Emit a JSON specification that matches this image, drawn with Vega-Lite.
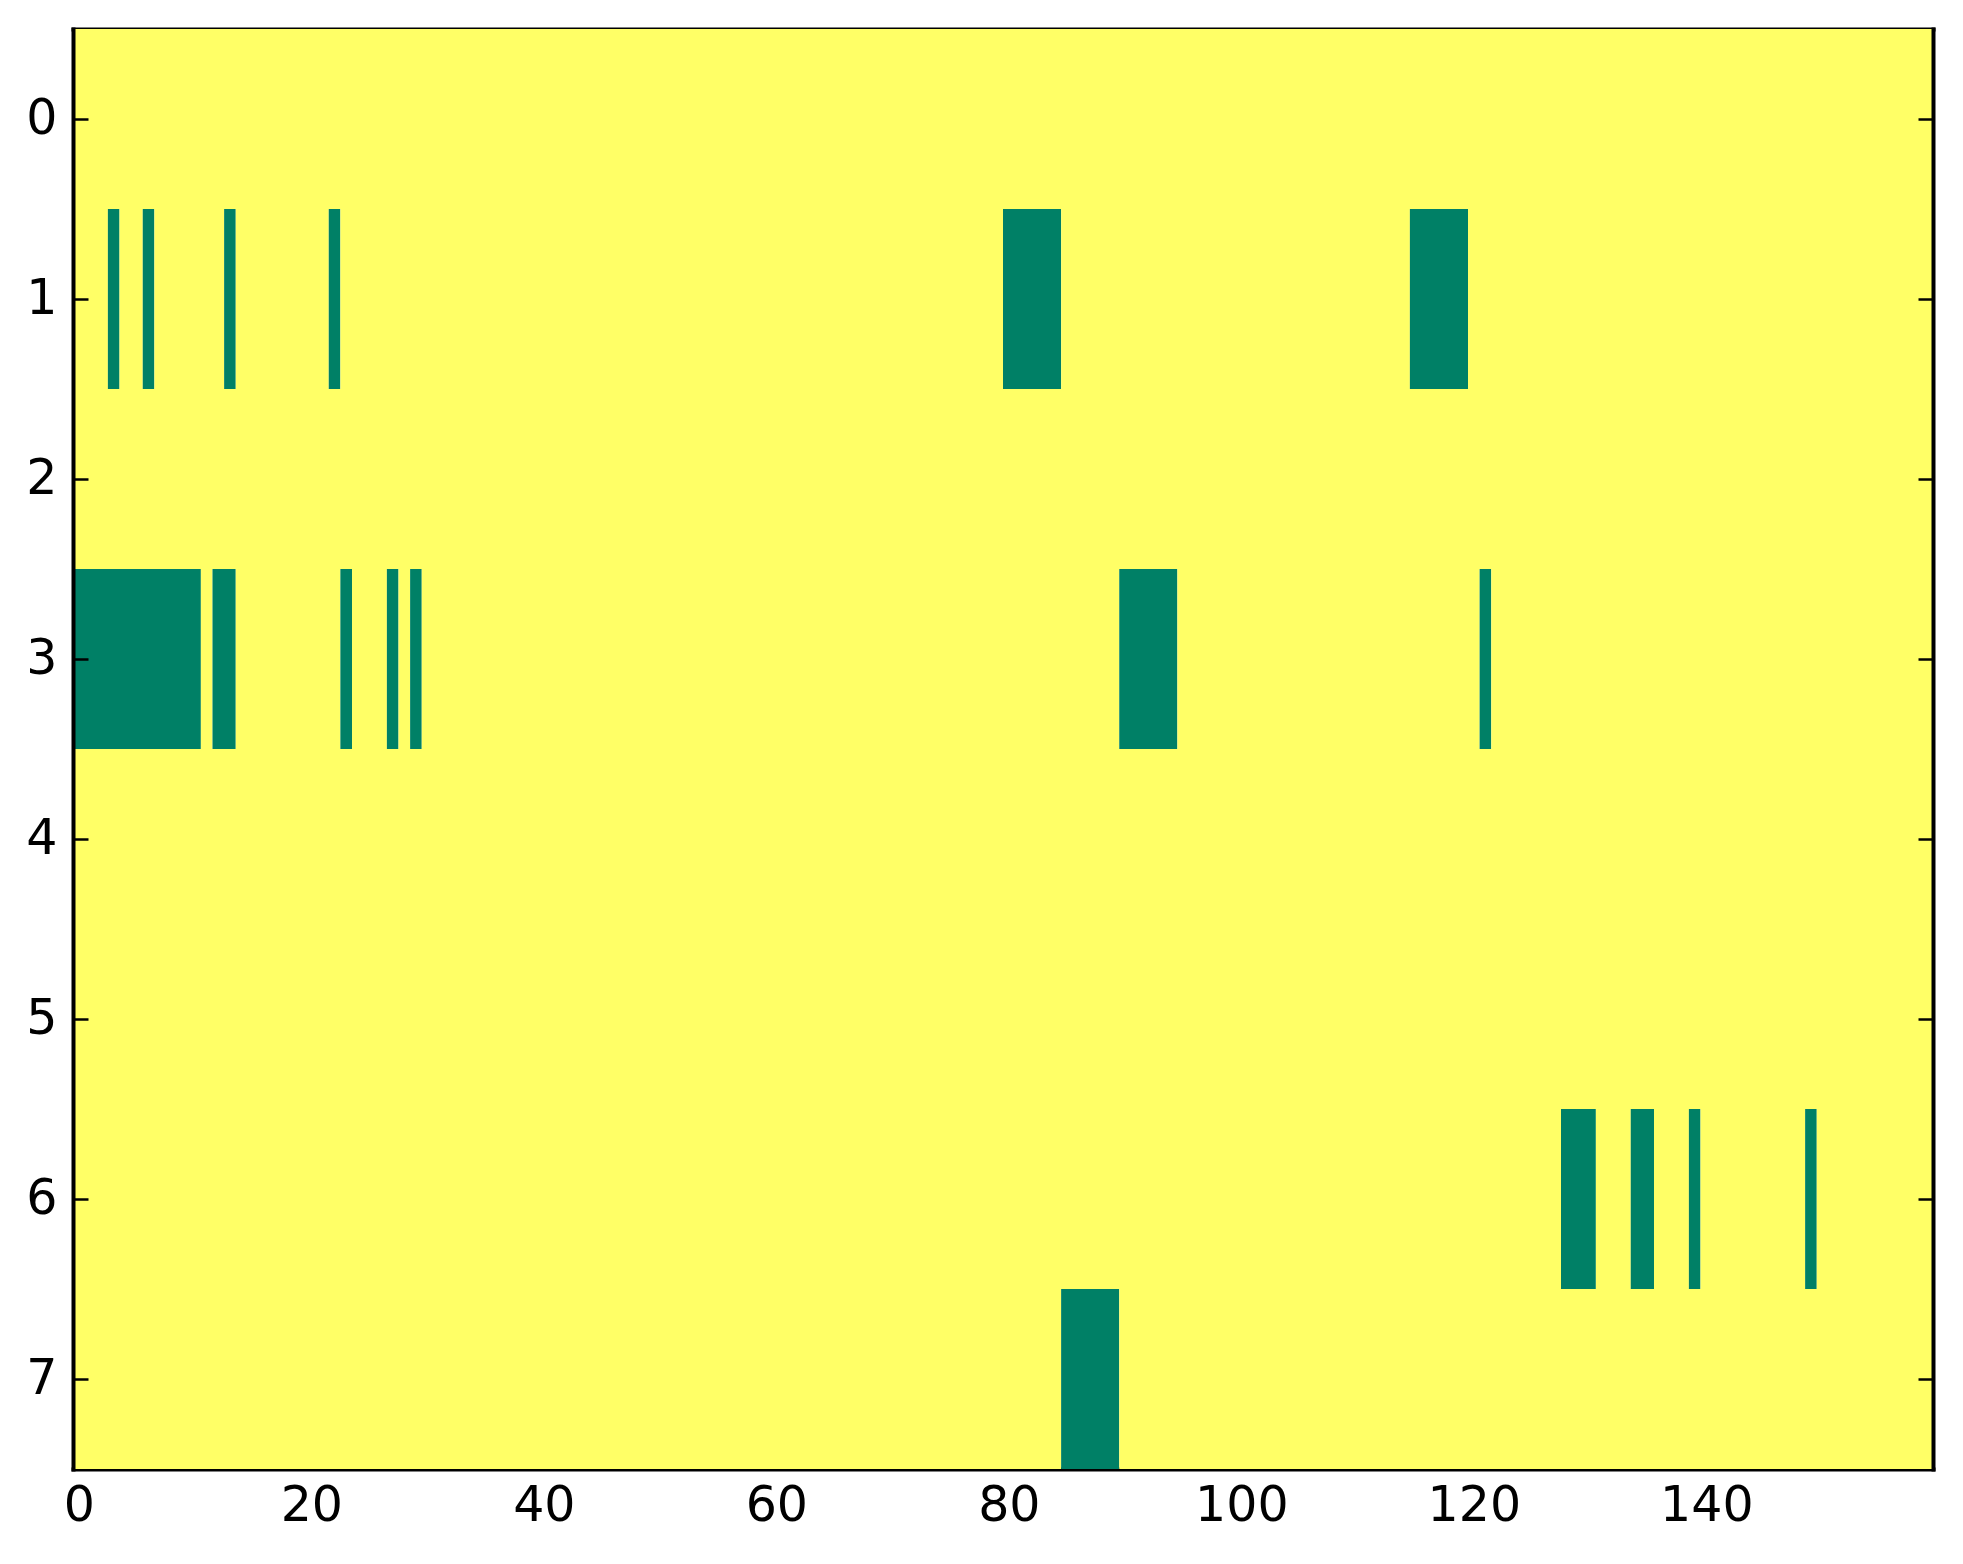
{
  "$schema": "https://vega.github.io/schema/vega-lite/v6.json",
  "width": 1860,
  "height": 1440,
  "autosize": "none",
  "padding": {"left": 73, "top": 29, "right": 30, "bottom": 95},
  "background": "white",
  "config": {
    "view": {"stroke": null},
    "axis": {
      "labelFont": "DejaVu Sans",
      "labelFontSize": 49,
      "labelColor": "black",
      "tickColor": "black",
      "tickWidth": 2.5,
      "tickSize": -15,
      "domain": true,
      "domainColor": "black",
      "domainWidth": 4,
      "domainCap": "square",
      "grid": false,
      "title": null
    }
  },
  "data": {
    "values": [
      {"r": 0, "x0": -0.5, "x1": 159.5, "v": 1},
      {"r": 1, "x0": -0.5, "x1": 2.5, "v": 1},
      {"r": 1, "x0": 2.5, "x1": 3.5, "v": 0},
      {"r": 1, "x0": 3.5, "x1": 5.5, "v": 1},
      {"r": 1, "x0": 5.5, "x1": 6.5, "v": 0},
      {"r": 1, "x0": 6.5, "x1": 12.5, "v": 1},
      {"r": 1, "x0": 12.5, "x1": 13.5, "v": 0},
      {"r": 1, "x0": 13.5, "x1": 21.5, "v": 1},
      {"r": 1, "x0": 21.5, "x1": 22.5, "v": 0},
      {"r": 1, "x0": 22.5, "x1": 79.5, "v": 1},
      {"r": 1, "x0": 79.5, "x1": 84.5, "v": 0},
      {"r": 1, "x0": 84.5, "x1": 114.5, "v": 1},
      {"r": 1, "x0": 114.5, "x1": 119.5, "v": 0},
      {"r": 1, "x0": 119.5, "x1": 159.5, "v": 1},
      {"r": 2, "x0": -0.5, "x1": 159.5, "v": 1},
      {"r": 3, "x0": -0.5, "x1": 10.5, "v": 0},
      {"r": 3, "x0": 10.5, "x1": 11.5, "v": 1},
      {"r": 3, "x0": 11.5, "x1": 13.5, "v": 0},
      {"r": 3, "x0": 13.5, "x1": 22.5, "v": 1},
      {"r": 3, "x0": 22.5, "x1": 23.5, "v": 0},
      {"r": 3, "x0": 23.5, "x1": 26.5, "v": 1},
      {"r": 3, "x0": 26.5, "x1": 27.5, "v": 0},
      {"r": 3, "x0": 27.5, "x1": 28.5, "v": 1},
      {"r": 3, "x0": 28.5, "x1": 29.5, "v": 0},
      {"r": 3, "x0": 29.5, "x1": 89.5, "v": 1},
      {"r": 3, "x0": 89.5, "x1": 94.5, "v": 0},
      {"r": 3, "x0": 94.5, "x1": 120.5, "v": 1},
      {"r": 3, "x0": 120.5, "x1": 121.5, "v": 0},
      {"r": 3, "x0": 121.5, "x1": 159.5, "v": 1},
      {"r": 4, "x0": -0.5, "x1": 159.5, "v": 1},
      {"r": 5, "x0": -0.5, "x1": 159.5, "v": 1},
      {"r": 6, "x0": -0.5, "x1": 127.5, "v": 1},
      {"r": 6, "x0": 127.5, "x1": 130.5, "v": 0},
      {"r": 6, "x0": 130.5, "x1": 133.5, "v": 1},
      {"r": 6, "x0": 133.5, "x1": 135.5, "v": 0},
      {"r": 6, "x0": 135.5, "x1": 138.5, "v": 1},
      {"r": 6, "x0": 138.5, "x1": 139.5, "v": 0},
      {"r": 6, "x0": 139.5, "x1": 148.5, "v": 1},
      {"r": 6, "x0": 148.5, "x1": 149.5, "v": 0},
      {"r": 6, "x0": 149.5, "x1": 159.5, "v": 1},
      {"r": 7, "x0": -0.5, "x1": 84.5, "v": 1},
      {"r": 7, "x0": 84.5, "x1": 89.5, "v": 0},
      {"r": 7, "x0": 89.5, "x1": 159.5, "v": 1}
    ]
  },
  "layer": [
    {
      "mark": {"type": "rect"},
      "encoding": {
        "x": {
          "field": "x0", "type": "quantitative",
          "scale": {"domain": [-0.5, 159.5], "nice": false, "zero": false},
          "axis": {"orient": "bottom", "values": [0, 20, 40, 60, 80, 100, 120, 140], "labelPadding": 27}
        },
        "x2": {"field": "x1"},
        "y": {
          "field": "r", "type": "ordinal",
          "scale": {"paddingInner": 0, "paddingOuter": 0},
          "axis": {"orient": "left", "labelPadding": 31, "labelAngle": 0}
        },
        "color": {
          "field": "v", "type": "ordinal",
          "scale": {"domain": [0, 1], "range": ["#008066", "#ffff66"]},
          "legend": null
        }
      }
    },
    {
      "mark": {"type": "rect", "opacity": 0},
      "encoding": {
        "x": {
          "field": "x0", "type": "quantitative",
          "axis": {"orient": "top", "values": [0, 20, 40, 60, 80, 100, 120, 140], "labels": false}
        },
        "x2": {"field": "x1"},
        "y": {
          "field": "r", "type": "ordinal",
          "axis": {"orient": "right", "labels": false}
        }
      }
    }
  ],
  "resolve": {"axis": {"x": "independent", "y": "independent"}}
}
